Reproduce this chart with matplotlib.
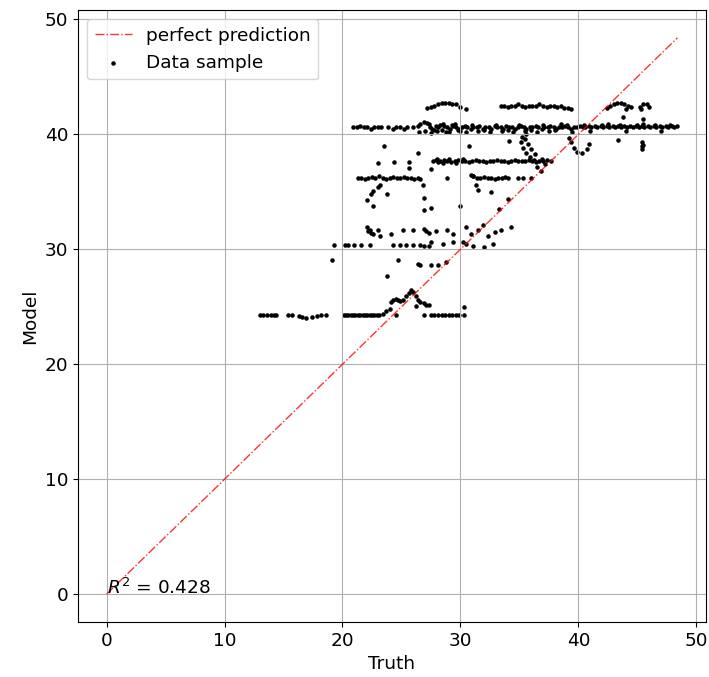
import matplotlib
matplotlib.use("Agg")
import matplotlib.pyplot as plt
import numpy as np

# ── data (truth, model) ─────────────────────────────────────────────────

low_x = [13.0, 13.3, 13.6, 13.9, 14.2, 14.4, 15.4, 15.7, 16.3, 16.6, 16.9, 17.4, 17.8, 18.2, 18.6]
low_y = [24.3, 24.3, 24.3, 24.3, 24.3, 24.3, 24.3, 24.3, 24.2, 24.1, 24.0, 24.1, 24.2, 24.3, 24.3]

band24_x = [20.1, 20.3, 20.5, 20.7, 20.9, 21.1, 21.3, 21.5, 21.7, 21.9, 22.1, 22.3, 22.5, 22.7,
            22.9, 23.1, 23.4, 23.7, 24.0, 24.5, 26.9, 27.5, 27.8, 28.1, 28.4, 28.7, 29.0, 29.3,
            29.6, 29.9, 30.3]
band24_y = [24.3, 24.3, 24.3, 24.3, 24.3, 24.3, 24.3, 24.3, 24.3, 24.3, 24.3, 24.3, 24.3, 24.3,
            24.3, 24.3, 24.4, 24.6, 24.8, 24.3, 24.3, 24.3, 24.3, 24.3, 24.3, 24.3, 24.3, 24.3,
            24.3, 24.3, 24.3]

bump_x = [24.1, 24.3, 24.5, 24.7, 24.9, 25.1, 25.4, 25.6, 25.8, 26.0, 26.2, 26.4, 26.6, 26.9,
          27.1, 27.3, 26.2, 30.3]
bump_y = [25.4, 25.6, 25.7, 25.6, 25.5, 25.6, 25.9, 26.2, 26.5, 26.3, 25.9, 25.6, 25.4, 25.3,
          25.2, 25.2, 25.1, 25.0]

mid_x = [19.1, 24.7, 23.8, 26.4, 26.6, 27.5, 28.1, 28.8]
mid_y = [29.1, 29.1, 27.7, 28.7, 28.6, 28.6, 28.6, 28.9]

row30_x = [19.3, 20.2, 20.5, 21.0, 21.6, 22.3, 24.3, 24.9, 25.4, 26.0, 26.6, 26.9, 27.3, 27.5,
           28.5, 29.4, 30.2, 30.5, 31.1, 32.0, 32.8]
row30_y = [30.4, 30.4, 30.4, 30.4, 30.4, 30.4, 30.4, 30.4, 30.4, 30.4, 30.4, 30.3, 30.3, 30.6,
           30.5, 30.6, 30.6, 30.5, 30.3, 30.2, 30.5]

row31_x = [22.1, 22.2, 22.4, 22.6, 22.3, 23.0, 23.2, 24.1, 25.1, 26.0, 26.9, 27.1, 27.3, 27.9,
           28.9, 29.4, 30.5, 30.9, 31.5, 31.9, 32.3, 32.9, 33.4, 34.3]
row31_y = [31.9, 31.6, 31.4, 31.3, 31.7, 31.7, 31.2, 31.3, 31.7, 31.7, 31.8, 31.6, 31.4, 31.6,
           31.7, 31.3, 31.9, 31.3, 31.7, 32.1, 31.2, 31.5, 31.7, 31.9]

arc_x = [22.1, 22.4, 22.6, 23.0, 23.2, 22.6, 23.8, 26.8, 26.9, 26.9, 27.5, 30.0, 31.3, 31.5,
         32.6, 34.0, 33.3]
arc_y = [34.3, 34.8, 35.1, 35.4, 35.6, 33.8, 34.8, 35.6, 34.5, 33.4, 33.6, 33.8, 35.6, 35.2,
         35.0, 34.4, 33.5]

row36_x = [21.3, 21.6, 21.9, 22.2, 22.5, 22.8, 23.1, 23.4, 23.7, 24.0, 24.3, 24.6, 24.9, 25.2,
           25.5, 25.8, 26.1, 26.4, 26.6, 28.9, 31.1, 31.4, 31.7, 32.0, 32.3, 32.6, 32.9, 33.2,
           33.5, 33.8, 34.0, 34.9, 35.3, 36.0]
row36_y = [36.2, 36.2, 36.1, 36.2, 36.3, 36.2, 36.4, 36.2, 36.1, 36.2, 36.3, 36.2, 36.2, 36.3,
           36.2, 36.2, 36.1, 36.2, 36.1, 36.2, 36.4, 36.2, 36.2, 36.3, 36.2, 36.2, 36.1, 36.2,
           36.2, 36.3, 36.2, 36.2, 36.2, 36.2]

iso_x = [23.0, 23.5, 24.4, 25.6, 25.6, 26.4, 27.5, 30.7, 34.1, 30.9, 31.1]
iso_y = [37.5, 39.0, 37.6, 37.6, 37.1, 38.4, 37.0, 39.0, 39.4, 36.5, 36.4]

row37_x = [27.7, 27.9, 28.1, 28.3, 28.6, 28.9, 29.2, 29.5, 29.8, 30.1, 30.4, 30.7, 31.0, 31.3,
           31.6, 31.9, 32.2, 32.5, 32.8, 33.1, 33.4, 33.7, 34.0, 34.3, 34.6, 34.9, 35.2, 35.5,
           35.8, 36.1, 36.4, 36.7, 37.0, 37.3, 37.7, 28.0, 28.5, 29.0, 29.6, 30.2]
row37_y = [37.7, 37.8, 37.6, 37.7, 37.8, 37.7, 37.6, 37.7, 37.8, 37.7, 37.7, 37.6, 37.7, 37.8,
           37.7, 37.7, 37.6, 37.7, 37.7, 37.8, 37.7, 37.7, 37.6, 37.7, 37.8, 37.7, 37.7, 37.7,
           37.8, 37.7, 37.6, 37.7, 37.7, 37.8, 37.7, 37.9, 37.5, 37.9, 37.5, 37.9]

loop_x = [35.2, 35.1, 35.3, 35.6, 35.9, 36.2, 36.3, 36.0, 35.7, 35.5, 35.6, 36.5, 36.8, 37.2,
          36.9, 39.2, 39.4, 39.6, 39.9, 40.3, 40.7, 40.9, 43.4, 45.4, 45.4, 45.4, 45.5]
loop_y = [39.8, 39.3, 38.8, 38.4, 38.0, 37.8, 38.3, 38.7, 39.2, 39.6, 40.0, 37.2, 36.8, 37.4,
          37.9, 39.7, 39.3, 38.8, 38.5, 38.4, 38.7, 39.2, 39.5, 39.3, 39.0, 38.7, 39.1]

top_x = [27.2, 27.5, 27.8, 28.1, 28.4, 28.7, 29.0, 29.3, 29.6, 30.0, 30.5,
         33.4, 33.7, 34.0, 34.3, 34.6, 34.9, 35.2, 35.5, 35.8, 36.1, 36.4, 36.7, 37.0, 37.3,
         37.6, 37.9, 38.2, 38.5, 38.8, 39.1, 39.4,
         42.4, 42.7, 43.0, 43.3, 43.6, 43.9, 44.2, 44.5, 44.0, 45.2, 45.5, 45.8, 46.0, 45.3,
         43.8, 45.5]
top_y = [42.3, 42.4, 42.5, 42.6, 42.7, 42.7, 42.7, 42.6, 42.6, 42.4, 42.2,
         42.5, 42.5, 42.4, 42.5, 42.5, 42.6, 42.5, 42.4, 42.5, 42.5, 42.5, 42.6, 42.5, 42.4,
         42.5, 42.5, 42.4, 42.5, 42.3, 42.3, 42.2,
         42.3, 42.5, 42.6, 42.7, 42.7, 42.6, 42.5, 42.4, 42.2, 42.4, 42.6, 42.6, 42.4, 42.2,
         41.5, 41.3]

band40_x = [20.9, 21.2, 21.5, 21.8, 22.1, 22.4, 22.7, 23.0, 23.3, 23.9, 24.3, 24.5, 24.9, 25.2,
            25.5, 26.0, 26.4, 26.6, 26.9, 27.2, 27.4, 27.6, 27.9, 28.1, 28.4, 28.6, 28.9, 29.1,
            29.4, 29.6, 29.9, 30.1, 30.4, 30.6, 30.9, 31.1, 31.4, 31.6, 31.9, 32.1, 32.4, 32.6,
            32.9, 33.1, 33.4, 33.6, 33.9, 34.1, 34.4, 34.6, 34.9, 35.1, 35.4, 35.6, 35.9, 36.1,
            36.4, 36.6, 36.9, 37.1, 37.4, 37.6, 37.9, 38.1, 38.4, 38.6, 38.9, 39.1, 39.4, 39.6,
            39.9, 40.1, 40.4, 40.6, 40.9, 41.1, 41.4, 41.6, 41.9, 42.1, 42.4, 42.6, 42.9, 43.1,
            43.4, 43.6, 43.9, 44.1, 44.4, 44.6, 44.9, 45.1, 45.4, 45.6, 45.9, 46.1, 46.4, 46.6,
            46.9, 47.1, 47.4, 47.6, 47.9, 48.1, 48.4]
band40_y = [40.6, 40.6, 40.7, 40.6, 40.6, 40.5, 40.6, 40.6, 40.6, 40.6, 40.5, 40.6, 40.6, 40.5,
            40.6, 40.6, 40.7, 40.9, 41.1, 41.0, 40.6, 40.5, 40.7, 40.6, 40.4, 40.7, 40.6, 40.5,
            40.7, 40.6, 40.5, 40.6, 40.7, 40.6, 40.5, 40.6, 40.6, 40.7, 40.5, 40.6, 40.6, 40.5,
            40.7, 40.6, 40.6, 40.5, 40.7, 40.6, 40.6, 40.5, 40.6, 40.7, 40.6, 40.5, 40.6, 40.6,
            40.7, 40.6, 40.5, 40.6, 40.6, 40.7, 40.6, 40.5, 40.6, 40.6, 40.7, 40.6, 40.5, 40.6,
            40.6, 40.7, 40.6, 40.6, 40.7, 40.6, 40.7, 40.6, 40.7, 40.6, 40.7, 40.6, 40.7, 40.6,
            40.7, 40.6, 40.7, 40.6, 40.7, 40.6, 40.7, 40.6, 40.7, 40.6, 40.7, 40.6, 40.7, 40.6,
            40.7, 40.6, 40.7, 40.6, 40.7, 40.6, 40.7]

thick_x = [26.5, 27.0, 27.5, 28.0, 28.5, 29.0, 29.5, 30.0, 30.5, 31.5, 32.5, 33.5, 34.5, 35.5,
           36.5, 37.5, 38.5, 39.5, 41.0, 42.5, 44.0, 45.5, 47.0, 27.3, 27.8, 28.3, 28.8, 29.3,
           29.8, 31.0, 32.0, 33.0, 34.0, 35.0, 36.0, 37.0, 38.0, 39.0, 40.5, 42.0, 43.5, 45.0,
           46.5, 47.8]
thick_y = [40.2, 40.3, 40.1, 40.3, 40.9, 40.2, 40.9, 40.3, 40.2, 40.3, 40.2, 40.3, 40.2, 40.3,
           40.2, 40.3, 40.9, 40.2, 40.3, 40.9, 40.3, 40.9, 40.3, 40.9, 40.4, 40.8, 40.2, 40.8,
           40.4, 40.8, 40.4, 40.8, 40.4, 40.8, 40.4, 40.8, 40.4, 40.8, 40.8, 40.8, 40.8, 40.8,
           40.8, 40.8]

r2 = 0.428

GROUPS_X = [low_x, band24_x, bump_x, mid_x, row30_x, row31_x, arc_x, row36_x, iso_x,
            row37_x, loop_x, top_x, band40_x, thick_x]
GROUPS_Y = [low_y, band24_y, bump_y, mid_y, row30_y, row31_y, arc_y, row36_y, iso_y,
            row37_y, loop_y, top_y, band40_y, thick_y]


def main():
    truth = np.concatenate([np.asarray(g) for g in GROUPS_X])
    model = np.concatenate([np.asarray(g) for g in GROUPS_Y])
    top = max(truth.max(), model.max())

    plt.rcParams["font.size"] = 13.3
    fig = plt.figure(figsize=(7.09, 6.77), dpi=100)
    ax = fig.add_axes([78 / 709, 55 / 677, 628 / 709, 612 / 677])

    ax.plot([0, top], [0, top], "r-.", lw=1, alpha=0.8, label="perfect prediction")
    ax.scatter(truth, model, s=5, c="k", label="Data sample")
    ax.text(0, 0, f"$R^2$ = {r2}")

    ax.set_xlabel("Truth")
    ax.set_ylabel("Model")
    ax.set_xticks([0, 10, 20, 30, 40, 50])
    ax.set_yticks([0, 10, 20, 30, 40, 50])
    ax.grid(True)
    ax.legend(loc="upper left")

    fig.savefig("out.png", dpi=100)
    plt.close(fig)


if __name__ == "__main__":
    main()
